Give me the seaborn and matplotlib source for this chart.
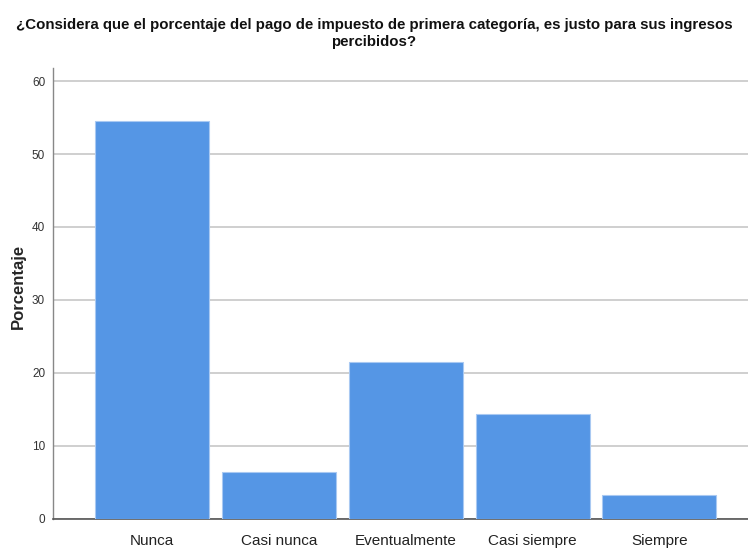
import matplotlib
matplotlib.use("Agg")
import matplotlib.pyplot as plt
import seaborn as sns
import pandas as pd

categories = ["Nunca", "Casi nunca", "Eventualmente", "Casi siempre", "Siempre"]
porcentaje = [54.5, 6.4, 21.5, 14.3, 3.3]
yticks = [0, 10, 20, 30, 40, 50, 60]

sns.set_style("white")
plt.rcParams['font.family'] = ["Liberation Sans", 'DejaVu Sans']

df = pd.DataFrame({"cat": categories, "pct": porcentaje})

fig = plt.figure(figsize=(7.48, 5.48), dpi=100)
ax = fig.add_axes([0.0715, 0.0535, 0.9285, 0.8225])

sns.barplot(data=df, x="cat", y="pct", order=categories, color="#5596E5",
            saturation=1, width=0.9, edgecolor="#A9C9F2", linewidth=0.8, ax=ax, zorder=3)

ax.set_ylim(0, 61.8)
ax.set_xlim(-0.78, 4.70)
ax.set_yticks(yticks)
ax.set_yticklabels([str(t) for t in yticks], fontsize=8.5, color="#333333")
ax.yaxis.grid(True, color="#CFCFCF", linewidth=1.4, zorder=0)
ax.set_axisbelow(True)
ax.tick_params(axis="y", length=0, pad=6)
ax.tick_params(axis="x", length=0, pad=11, labelsize=11, labelcolor="#222222")
for s in ["top", "right"]:
    ax.spines[s].set_visible(False)
ax.spines["left"].set_color("#888888")
ax.spines["left"].set_linewidth(1.0)
ax.spines["bottom"].set_color("#555555")
ax.spines["bottom"].set_linewidth(1.2)

ax.set_xlabel("")
ax.set_ylabel("Porcentaje", fontsize=12, fontweight="bold")
ax.yaxis.set_label_coords(-0.04, 0.516)

fig.suptitle("¿Considera que el porcentaje del pago de impuesto de primera categoría, es justo para sus ingresos\npercibidos?",
             x=0.5, y=0.968, fontsize=10.8, fontweight="bold", linespacing=1.35, color="#111111")

fig.savefig("out.png", dpi=100, facecolor="white")
